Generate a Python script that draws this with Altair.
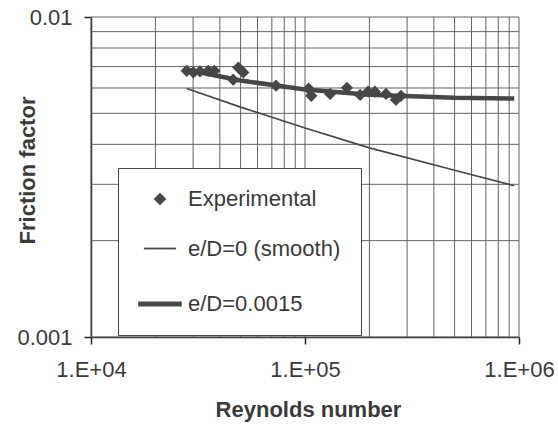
import altair as alt
import pandas as pd

# Experimental data (Reynolds number, Fanning friction factor)
exp_re = [28000, 30100, 32300, 35300, 37700, 46200, 48800, 51500, 73200, 104000,
          107000, 131000, 157000, 181000, 197000, 212000, 239000, 266000, 281000]
exp_f = [0.00679, 0.00671, 0.00676, 0.00679, 0.00679, 0.00637, 0.00695, 0.00671,
         0.00610, 0.00597, 0.00567, 0.00575, 0.00601, 0.00571, 0.00584, 0.00584,
         0.00575, 0.00551, 0.00567]

# Smooth pipe curve e/D = 0
smooth_re = [28000, 50000, 100000, 200000, 500000, 950000]
smooth_f = [0.00598, 0.00523, 0.00450, 0.00390, 0.00332, 0.00297]

# Rough pipe curve e/D = 0.0015
rough_re = [28000, 50000, 100000, 200000, 500000, 950000]
rough_f = [0.00684, 0.00633, 0.00594, 0.00572, 0.00559, 0.00556]

series_names = ["Experimental", "e/D=0 (smooth)", "e/D=0.0015"]

# Grid positions (log decades and minor multiples)
x_grid = [1e4, 2e4, 3e4, 4e4, 5e4, 6e4, 7e4, 8e4, 9e4,
          1e5, 2e5, 3e5, 4e5, 5e5, 6e5, 7e5, 8e5, 9e5, 1e6]
y_grid = [0.001, 0.002, 0.003, 0.004, 0.005, 0.006, 0.007, 0.008, 0.009, 0.01]
x_ticks = [1e4, 1e5, 1e6]
y_ticks = [0.001, 0.01]

FONT = "Liberation Sans"
TXT = "#3a3a3a"
DARK = "#474747"
GRID = "#626262"

exp_df = pd.DataFrame({"Re": exp_re, "f": exp_f, "series": series_names[0]})
smooth_df = pd.DataFrame({"Re": smooth_re, "f": smooth_f})
rough_df = pd.DataFrame({"Re": rough_re, "f": rough_f})
xg_df = pd.DataFrame({"Re": x_grid})
yg_df = pd.DataFrame({"f": y_grid})

xscale = alt.Scale(type="log", domain=[1e4, 1e6])
yscale = alt.Scale(type="log", domain=[0.001, 0.01])

x_axis = alt.Axis(
    values=x_ticks, grid=False, title="Reynolds number",
    labelExpr="'1.E+0' + round(log(datum.value) / LN10)",
    labelFlush=False, labelFontSize=22, labelFont=FONT, labelColor=TXT,
    labelPadding=15, tickSize=7, tickWidth=1.5, tickColor="#222",
    domainColor="#222", domainWidth=1.5,
    titleFontSize=22, titleFont=FONT, titleFontWeight="bold", titleColor=TXT,
    titleX=217, titleY=79, titleBaseline="alphabetic", titleAlign="center",
)
y_axis = alt.Axis(
    values=y_ticks, grid=False, title="Friction factor", format=".3~f",
    labelFontSize=22, labelFont=FONT, labelColor=TXT, labelPadding=12,
    tickSize=7, tickWidth=1.5, tickColor="#222",
    domainColor="#222", domainWidth=1.5,
    titleFontSize=22, titleFont=FONT, titleFontWeight="bold", titleColor=TXT,
    titleX=-64, titleY=153, titleAngle=-90, titleBaseline="middle",
    titleAlign="center",
)

X = alt.X("Re:Q", scale=xscale, axis=x_axis)
Y = alt.Y("f:Q", scale=yscale, axis=y_axis)

vgrid = alt.Chart(xg_df).mark_rule(color=GRID, strokeWidth=1).encode(x=X)
hgrid = alt.Chart(yg_df).mark_rule(color=GRID, strokeWidth=1).encode(y=Y)

smooth = alt.Chart(smooth_df).mark_line(color=DARK, strokeWidth=1.7).encode(x=X, y=Y)
rough = alt.Chart(rough_df).mark_line(color=DARK, strokeWidth=4.5).encode(x=X, y=Y)

legend = alt.Legend(
    title=None, orient="none", legendX=27, legendY=151,
    padding=20, fillColor="white", strokeColor="#444",
    labelFontSize=22, labelFont=FONT, labelColor=TXT, labelOffset=6,
    rowPadding=22, symbolFillColor=DARK, symbolStrokeColor=DARK,
    symbolStrokeWidth=0.5,
)

# legend symbols: diamond, thin bar, thick bar (paths within [-1, 1])
shape_range = ["diamond", "M-1,-0.04H1V0.04H-1Z", "M-1,-0.1H1V0.1H-1Z"]

points = alt.Chart(exp_df).mark_point(filled=True, opacity=1, strokeWidth=0.5).encode(
    x=X, y=Y,
    color=alt.Color("series:N", scale=alt.Scale(domain=series_names,
                    range=[DARK, DARK, DARK]), legend=legend),
    shape=alt.Shape("series:N", scale=alt.Scale(domain=series_names,
                    range=shape_range), legend=legend),
    size=alt.Size("series:N", scale=alt.Scale(domain=series_names,
                  range=[150, 1849, 1849]), legend=legend),
)

chart = alt.layer(vgrid, hgrid, smooth, rough, points).properties(
    width=428, height=320,
    autosize=alt.AutoSizeParams(type="none"),
    padding={"left": 91, "top": 17, "right": 39, "bottom": 87},
    background="white",
).configure_view(stroke=None)

chart.save("out.html", embed_options={"renderer": "svg", "actions": False})
